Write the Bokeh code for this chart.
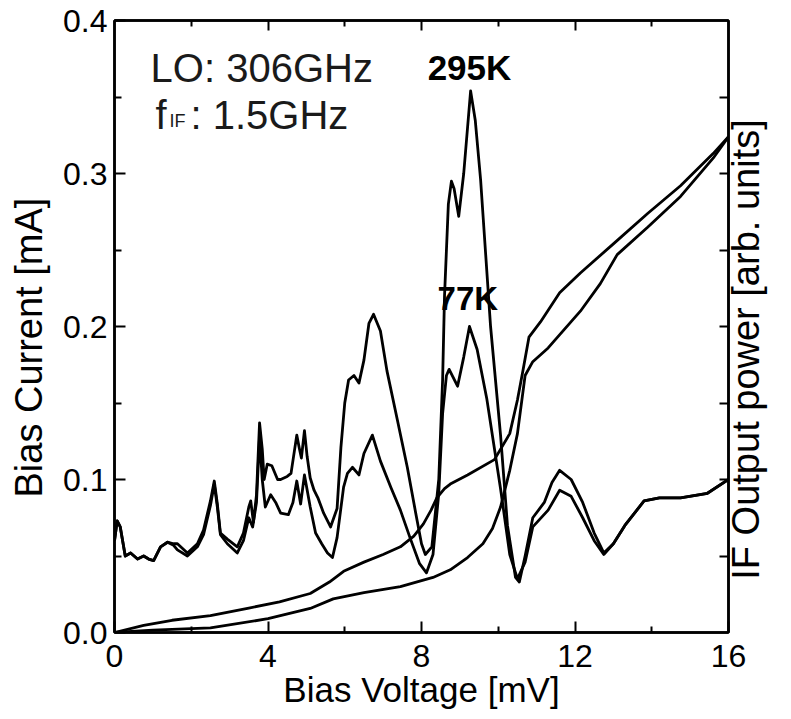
import math
from bokeh.plotting import figure
from bokeh.models import Range1d, LinearAxis, FixedTicker, PrintfTickFormatter, Label
from bokeh.embed import file_html
from bokeh.resources import INLINE

# ---------------- data ----------------
# IF output power, 295 K load
v_if_295 = [0.0, 0.07, 0.15, 0.28, 0.42, 0.6, 0.76, 0.89, 1.02, 1.2, 1.38, 1.54, 1.64, 1.9, 2.16,
            2.32, 2.5, 2.6, 2.68, 2.76, 2.94, 3.2, 3.36, 3.5, 3.55, 3.62, 3.7, 3.78, 3.85, 3.9,
            3.98, 4.1, 4.25, 4.33, 4.5, 4.6, 4.75, 4.82, 4.87, 4.95, 5.02, 5.1, 5.2, 5.3, 5.45,
            5.63, 5.8, 5.9, 6.0, 6.1, 6.24, 6.37, 6.5, 6.63, 6.75, 6.93, 7.1, 7.37, 7.63, 7.85,
            8.0, 8.1, 8.27, 8.45, 8.55, 8.6, 8.7, 8.78, 8.85, 8.97, 9.1, 9.28, 9.4, 9.54, 9.8,
            10.06, 10.24, 10.45, 10.55, 10.7, 10.9, 11.2, 11.4, 11.6, 11.9, 12.2, 12.5, 12.75,
            13.0, 13.3, 13.8, 14.2, 14.75, 15.45, 16.0]
p_if_295 = [0.06, 0.073, 0.069, 0.05, 0.052, 0.048, 0.05, 0.048, 0.047, 0.056, 0.059, 0.058, 0.058,
            0.052, 0.058, 0.067, 0.086, 0.099, 0.084, 0.065, 0.061, 0.056, 0.065, 0.082, 0.086,
            0.072, 0.09, 0.137, 0.12, 0.1, 0.11, 0.109, 0.1, 0.1, 0.102, 0.104, 0.129, 0.12, 0.114,
            0.132, 0.115, 0.101, 0.093, 0.088, 0.078, 0.069, 0.081, 0.121, 0.15, 0.165, 0.168,
            0.163, 0.178, 0.202, 0.208, 0.197, 0.171, 0.139, 0.108, 0.078, 0.058, 0.051, 0.056,
            0.1, 0.165, 0.22, 0.28, 0.295, 0.29, 0.272, 0.3, 0.354, 0.335, 0.296, 0.2, 0.129, 0.07,
            0.036, 0.033, 0.05, 0.075, 0.085, 0.098, 0.106, 0.1, 0.085, 0.065, 0.052, 0.058, 0.07,
            0.086, 0.088, 0.088, 0.091, 0.1]

# IF output power, 77 K load
v_if_77 = [0.0, 0.07, 0.15, 0.28, 0.42, 0.6, 0.76, 0.89, 1.02, 1.2, 1.38, 1.54, 1.64, 1.9, 2.16,
           2.32, 2.5, 2.6, 2.68, 2.76, 2.94, 3.2, 3.36, 3.5, 3.6, 3.7, 3.78, 3.85, 3.93, 4.07,
           4.2, 4.33, 4.53, 4.65, 4.75, 4.85, 4.95, 5.1, 5.24, 5.4, 5.55, 5.68, 5.8, 5.97, 6.07,
           6.2, 6.37, 6.5, 6.72, 6.93, 7.2, 7.45, 7.7, 7.95, 8.13, 8.3, 8.45, 8.55, 8.65, 8.72,
           8.94, 9.1, 9.25, 9.45, 9.7, 10.06, 10.3, 10.5, 10.7, 10.9, 11.3, 11.6, 11.9, 12.2,
           12.5, 12.75, 13.0, 13.3, 13.8, 14.2, 14.75, 15.45, 16.0]
p_if_77 = [0.06, 0.073, 0.069, 0.05, 0.052, 0.048, 0.05, 0.048, 0.047, 0.056, 0.059, 0.057, 0.054,
           0.05, 0.056, 0.064, 0.083, 0.097, 0.082, 0.064, 0.058, 0.052, 0.06, 0.075, 0.069, 0.085,
           0.128, 0.1, 0.082, 0.09, 0.085, 0.078, 0.077, 0.085, 0.099, 0.084, 0.103, 0.082, 0.065,
           0.058, 0.052, 0.049, 0.062, 0.095, 0.104, 0.108, 0.103, 0.117, 0.129, 0.112, 0.095,
           0.08, 0.062, 0.045, 0.039, 0.051, 0.091, 0.143, 0.168, 0.172, 0.161, 0.18, 0.2, 0.185,
           0.153, 0.094, 0.051, 0.035, 0.046, 0.069, 0.08, 0.093, 0.089, 0.075, 0.06, 0.051,
           0.058, 0.07, 0.086, 0.088, 0.088, 0.091, 0.1]

# I-V curves (bias current)
v_iv_a = [0.0, 0.76, 1.5, 2.5, 3.5, 4.3, 5.1, 5.6, 5.97, 6.5, 7.0, 7.45, 7.8, 8.05, 8.25, 8.4,
          8.6, 8.75, 9.2, 9.9, 10.3, 10.5, 10.65, 10.8, 11.1, 11.6, 12.14, 13.0, 13.9, 14.75,
          15.6, 16.0]
i_iv_a = [0.0, 0.0046, 0.008, 0.011, 0.016, 0.02, 0.0255, 0.033, 0.04, 0.046, 0.051, 0.056, 0.063,
          0.071, 0.08, 0.088, 0.094, 0.097, 0.103, 0.113, 0.13, 0.152, 0.172, 0.193, 0.203,
          0.222, 0.235, 0.254, 0.274, 0.292, 0.313, 0.324]

v_iv_b = [0.0, 1.0, 2.5, 4.0, 5.1, 5.7, 6.5, 7.45, 8.3, 8.75, 9.2, 9.6, 9.85, 10.06, 10.3, 10.5,
          10.7, 10.9, 11.3, 12.14, 12.66, 13.1, 13.9, 14.75, 15.6, 16.0]
i_iv_b = [0.0, 0.0015, 0.003, 0.009, 0.0157, 0.022, 0.026, 0.03, 0.036, 0.041, 0.049, 0.058, 0.068,
          0.082, 0.106, 0.13, 0.168, 0.177, 0.186, 0.21, 0.228, 0.247, 0.265, 0.285, 0.31, 0.324]

x_ticks = [0, 4, 8, 12, 16]
x_minor = [2, 6, 10, 14]
y_ticks = [0.0, 0.1, 0.2, 0.3, 0.4]
y_minor = [0.05, 0.15, 0.25, 0.35]
right_ticks = [0.05, 0.1, 0.15, 0.2, 0.25, 0.3, 0.35]

FONT = "Liberation Sans"
NBSP = "\u00a0"

p = figure(width=791, height=719, x_range=Range1d(0, 16), y_range=Range1d(0, 0.4),
           output_backend="svg", toolbar_location=None,
           min_border_left=114, min_border_right=63, min_border_top=20, min_border_bottom=87,
           x_axis_label="Bias Voltage [mV]")
p.xgrid.visible = False
p.ygrid.visible = False
p.background_fill_color = "white"
p.border_fill_color = "white"
p.outline_line_color = "black"
p.outline_line_width = 2.5


def style(ax, major_len=11, minor_len=6):
    ax.axis_line_color = "black"
    ax.axis_line_width = 2.5
    ax.major_tick_line_color = "black"
    ax.major_tick_line_width = 2
    ax.minor_tick_line_color = "black"
    ax.minor_tick_line_width = 2
    ax.major_tick_in = major_len
    ax.major_tick_out = 0
    ax.minor_tick_in = minor_len
    ax.minor_tick_out = 0
    ax.major_label_text_font = FONT
    ax.major_label_text_color = "black"
    ax.axis_label_text_font = FONT
    ax.axis_label_text_font_style = "normal"
    ax.axis_label_text_color = "black"


xa = p.xaxis[0]
style(xa)
xa.ticker = FixedTicker(ticks=x_ticks, minor_ticks=x_minor)
xa.formatter = PrintfTickFormatter(format="%d")
xa.major_label_text_font_size = "32px"
xa.axis_label_text_font_size = "35px"
xa.major_label_standoff = 12
xa.axis_label_standoff = 0

ya = p.yaxis[0]
style(ya, 11, 7)
ya.ticker = FixedTicker(ticks=y_ticks, minor_ticks=y_minor)
ya.formatter = PrintfTickFormatter(format="%.1f")
ya.major_label_text_font_size = "32px"
ya.major_label_standoff = 7
# trailing non-breaking spaces push the (bottom-to-top) title slightly down, as in the reference
ya.axis_label = "Bias Current [mA]" + NBSP * 4
ya.axis_label_text_font_size = "38px"
ya.axis_label_standoff = 10

top = LinearAxis(ticker=FixedTicker(ticks=[4, 8, 12], minor_ticks=x_minor))
style(top, 10, 6)
top.major_label_text_color = None
top.major_label_text_font_size = "1px"
top.major_label_standoff = 0
p.add_layout(top, "above")

right = LinearAxis(ticker=FixedTicker(ticks=right_ticks, minor_ticks=[]))
style(right, 9, 0)
right.major_label_text_color = None
right.major_label_text_font_size = "1px"
right.major_label_standoff = 0
right_title = "IF Output power [arb. units]"
props = right.properties()
if "axis_label_orientation" in props and "axis_label_align" in props:
    # read bottom-to-top, starting a little above the bottom of the axis
    right.axis_label_orientation = math.pi / 2
    right.axis_label_align = "start"
    right.axis_label = NBSP * 5 + right_title
    right.axis_label_standoff = 17
else:
    right.axis_label = right_title
    right.axis_label_standoff = 17
right.axis_label_text_font_size = "38px"
p.add_layout(right, "right")

for xs, ys in [(v_if_295, p_if_295), (v_if_77, p_if_77), (v_iv_a, i_iv_a), (v_iv_b, i_iv_b)]:
    p.line(xs, ys, line_color="black", line_width=2.8, line_join="round")


# annotations inside the frame
def lab(**kw):
    base = dict(text_font=FONT, text_color="black", text_baseline="alphabetic")
    base.update(kw)
    p.add_layout(Label(**base))


lab(x=0.94, y=0.369, text="LO: 306GHz", text_font_size="40px", text_color="#1a1a1a")
lab(x=1.07, y=0.3385, text="f", text_font_size="40px", text_color="#1a1a1a")
lab(x=1.43, y=0.334, text="IF", text_font_size="18px", text_color="#1a1a1a")
lab(x=1.98, y=0.3385, text=": 1.5GHz", text_font_size="40px", text_color="#1a1a1a")
lab(x=8.16, y=0.369, text="295K", text_font_size="35px", text_font_style="bold")
lab(x=8.42, y=0.2185, text="77K", text_font_size="33px", text_font_style="bold")

open("out.html", "w").write(file_html(p, INLINE))
